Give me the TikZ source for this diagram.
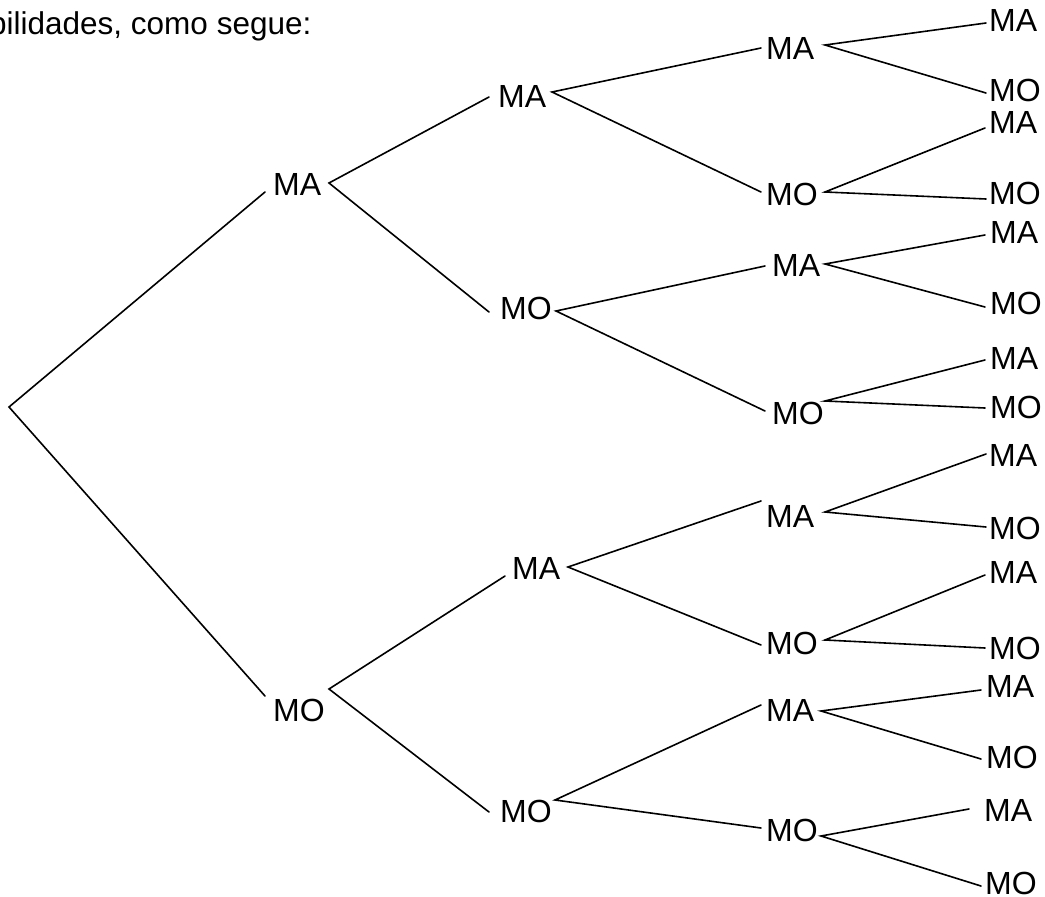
\documentclass[tikz,border=0pt]{standalone}
\usepackage{fontspec}
\setmainfont{Liberation Sans}
\begin{document}
\begin{tikzpicture}[x=1pt,y=-1pt,
  lbl/.style={anchor=base west,inner sep=0pt,font=\fontsize{32}{38}\selectfont},
  branch/.style={line width=1.6pt,line cap=round}]
\useasboundingbox (0,0) rectangle (1045,897);

% heading line (continues from the previous page)
\node[anchor=base west,inner sep=0pt,font=\fontsize{31.5}{38}\selectfont] (head) at (-11,34) {bilidades, como segue:};

% root
\coordinate (r) at (9,407);

% first draw
\node[lbl] (a) at (273,195) {MA};  \coordinate (a-i) at (265,192); \coordinate (a-o) at (329,183);
\node[lbl] (b) at (273,721) {MO};  \coordinate (b-i) at (265,696); \coordinate (b-o) at (329,689);

% second draw
\node[lbl] (aa) at (498,107) {MA}; \coordinate (aa-i) at (489,97);  \coordinate (aa-o) at (552,92);
\node[lbl] (ab) at (500,319) {MO}; \coordinate (ab-i) at (489,312); \coordinate (ab-o) at (556,311);
\node[lbl] (ba) at (512,579) {MA}; \coordinate (ba-i) at (505,576); \coordinate (ba-o) at (568,567);
\node[lbl] (bb) at (500,822) {MO}; \coordinate (bb-i) at (489,812); \coordinate (bb-o) at (555,800);

% third draw
\node[lbl] (aaa) at (766,59)  {MA}; \coordinate (aaa-i) at (761,48);  \coordinate (aaa-o) at (825,45);
\node[lbl] (aab) at (766,205) {MO}; \coordinate (aab-i) at (761,192); \coordinate (aab-o) at (825,192);
\node[lbl] (aba) at (772,276) {MA}; \coordinate (aba-i) at (765,266); \coordinate (aba-o) at (825,264);
\node[lbl] (abb) at (772,424) {MO}; \coordinate (abb-i) at (765,411); \coordinate (abb-o) at (825,401);
\node[lbl] (baa) at (766,527) {MA}; \coordinate (baa-i) at (761,501); \coordinate (baa-o) at (825,512);
\node[lbl] (bab) at (766,654) {MO}; \coordinate (bab-i) at (761,645); \coordinate (bab-o) at (825,640);
\node[lbl] (bba) at (766,721) {MA}; \coordinate (bba-i) at (761,705); \coordinate (bba-o) at (821,711);
\node[lbl] (bbb) at (766,841) {MO}; \coordinate (bbb-i) at (761,828); \coordinate (bbb-o) at (821,836);

% fourth draw (leaves)
\node[lbl] (l1)  at (989,31)  {MA}; \coordinate (l1-i)  at (986,23);
\node[lbl] (l2)  at (989,101) {MO}; \coordinate (l2-i)  at (986,93);
\node[lbl] (l3)  at (989,133) {MA}; \coordinate (l3-i)  at (985,128);
\node[lbl] (l4)  at (989,204) {MO}; \coordinate (l4-i)  at (986,199);
\node[lbl] (l5)  at (990,243) {MA}; \coordinate (l5-i)  at (985,235);
\node[lbl] (l6)  at (990,314) {MO}; \coordinate (l6-i)  at (985,307);
\node[lbl] (l7)  at (990,369) {MA}; \coordinate (l7-i)  at (985,360);
\node[lbl] (l8)  at (990,418) {MO}; \coordinate (l8-i)  at (985,408);
\node[lbl] (l9)  at (989,466) {MA}; \coordinate (l9-i)  at (986,454);
\node[lbl] (l10) at (989,539) {MO}; \coordinate (l10-i) at (986,527);
\node[lbl] (l11) at (989,583) {MA}; \coordinate (l11-i) at (985,575);
\node[lbl] (l12) at (989,659) {MO}; \coordinate (l12-i) at (985,648);
\node[lbl] (l13) at (986,697) {MA}; \coordinate (l13-i) at (981,690);
\node[lbl] (l14) at (986,768) {MO}; \coordinate (l14-i) at (981,759);
\node[lbl] (l15) at (984,821) {MA}; \coordinate (l15-i) at (969,809);
\node[lbl] (l16) at (985,894) {MO}; \coordinate (l16-i) at (981,886);

% branches
\draw[branch] (a-i) -- (r) -- (b-i);
\draw[branch] (aa-i) -- (a-o) -- (ab-i);
\draw[branch] (ba-i) -- (b-o) -- (bb-i);
\draw[branch] (aaa-i) -- (aa-o) -- (aab-i);
\draw[branch] (aba-i) -- (ab-o) -- (abb-i);
\draw[branch] (baa-i) -- (ba-o) -- (bab-i);
\draw[branch] (bba-i) -- (bb-o) -- (bbb-i);
\draw[branch] (l1-i)  -- (aaa-o) -- (l2-i);
\draw[branch] (l3-i)  -- (aab-o) -- (l4-i);
\draw[branch] (l5-i)  -- (aba-o) -- (l6-i);
\draw[branch] (l7-i)  -- (abb-o) -- (l8-i);
\draw[branch] (l9-i)  -- (baa-o) -- (l10-i);
\draw[branch] (l11-i) -- (bab-o) -- (l12-i);
\draw[branch] (l13-i) -- (bba-o) -- (l14-i);
\draw[branch] (l15-i) -- (bbb-o) -- (l16-i);
\end{tikzpicture}
\end{document}
